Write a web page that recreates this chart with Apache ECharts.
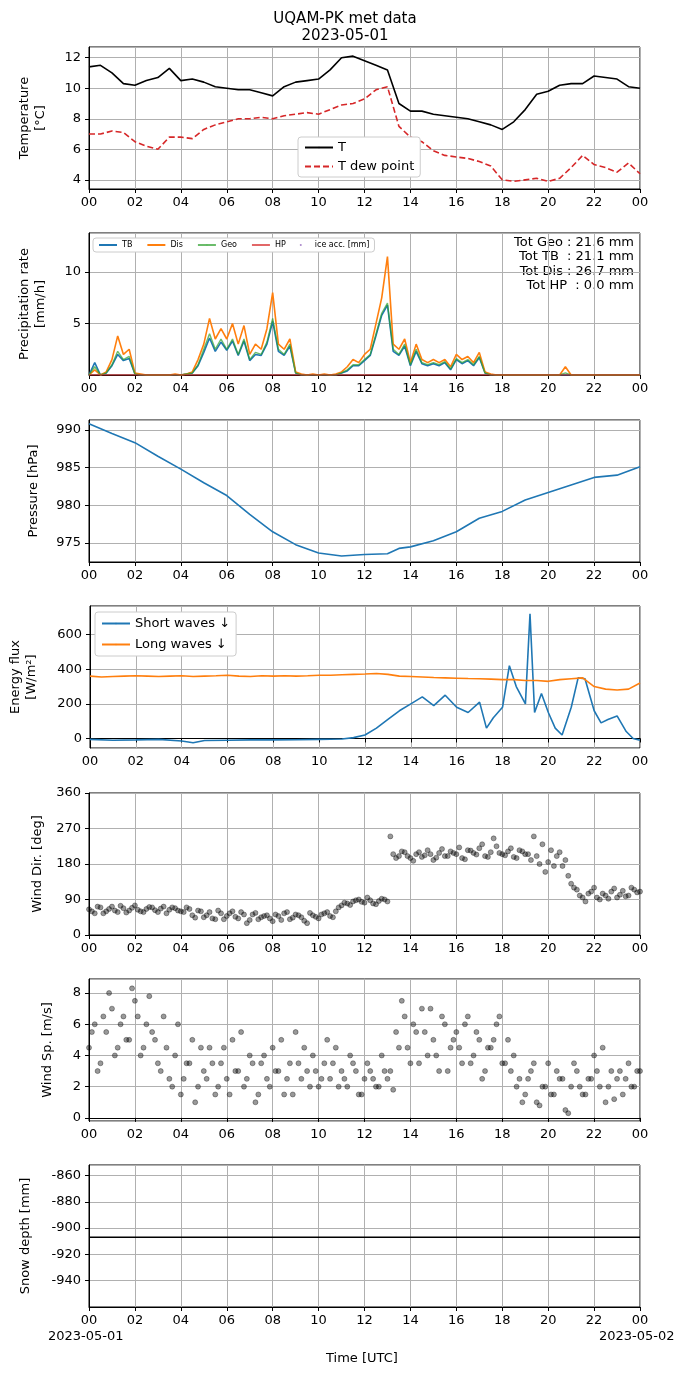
<!DOCTYPE html><html><head><meta charset="utf-8">
<script src="https://cdn.jsdelivr.net/npm/echarts@6/dist/echarts.min.js"></script>
<style>html,body{margin:0;padding:0;background:#fff}#c{width:690px;height:1377px}</style></head><body><div id="c"></div>
<script>
const tempT=[11.4,11.5,11.0,10.3,10.2,10.5,10.7,11.3,10.5,10.6,10.4,10.1,10.0,9.9,9.9,9.7,9.5,10.1,10.4,10.5,10.6,11.2,12.0,12.1,11.8,11.5,11.2,9.0,8.5,8.5,8.3,8.2,8.1,8.0,7.8,7.6,7.3,7.8,8.6,9.6,9.8,10.2,10.3,10.3,10.8,10.7,10.6,10.1,10.0];
const tempDew=[7.0,7.0,7.2,7.1,6.5,6.2,6.0,6.8,6.8,6.7,7.3,7.6,7.8,8.0,8.0,8.1,8.0,8.2,8.3,8.4,8.3,8.6,8.9,9.0,9.3,9.9,10.1,7.5,6.8,6.5,5.9,5.6,5.5,5.4,5.2,4.9,4.0,3.9,4.0,4.1,3.9,4.1,4.8,5.6,5.0,4.8,4.5,5.1,4.4];
const precDis=[0,0.5,0,0.3,1.5,3.8,2.0,2.5,0.2,0.1,0,0,0,0,0,0.1,
0,0.1,0.3,1.5,3.0,5.5,3.5,4.5,3.5,5.0,3.0,4.8,2.0,3.0,2.5,4.5,
8.0,3.0,2.5,3.5,0.3,0.1,0,0.1,0,0.1,0,0.1,
0.3,0.8,1.5,1.2,2.0,2.5,5.0,7.5,11.5,3.0,2.5,3.5,
1.2,3.0,1.5,1.2,1.5,1.2,1.5,0.8,2.0,1.5,1.8,1.2,2.2,0.3,0.1,0,
0,0,0,0,0,0,0,0,0,0,0,0.8,0,0,0,0,0,0,0,0,0,0,0,0,0];
const precGeo=[0,0.8,0,0.2,1.0,2.3,1.5,1.8,0.1,0,0,0,0,0,0,0,
0,0.1,0.2,1.0,2.5,4.0,2.5,3.5,2.5,3.5,2.0,3.5,1.5,2.2,2.0,3.2,
5.5,2.5,2.0,3.0,0.2,0,0,0,0,0,0,0,
0.2,0.5,1.0,1.0,1.5,2.0,4.0,6.0,7.0,2.5,2.0,3.0,
1.0,2.5,1.2,1.0,1.2,1.0,1.3,0.6,1.6,1.2,1.5,1.0,1.8,0.2,0,0,
0,0,0,0,0,0,0,0,0,0,0,0.2,0,0,0,0,0,0,0,0,0,0,0,0,0];
const precTB=[0,1.2,0,0.2,0.9,2.0,1.4,1.6,0.1,0,0,0,0,0,0,0,
0,0.1,0.2,0.9,2.2,3.6,2.3,3.2,2.4,3.3,1.9,3.3,1.4,2.0,1.9,3.0,
5.2,2.3,1.9,2.8,0.2,0,0,0,0,0,0,0,
0.2,0.4,0.9,0.9,1.4,1.9,3.8,5.8,6.8,2.3,1.9,2.8,
0.9,2.3,1.1,0.9,1.1,0.9,1.2,0.5,1.5,1.1,1.4,0.9,1.7,0.2,0,0,
0,0,0,0,0,0,0,0,0,0,0,0,0,0,0,0,0,0,0,0,0,0,0,0,0];
const presHours=[0,1,2,3,4,5,6,7,8,9,10,11,12,13,13.5,14,15,16,17,18,19,20,21,22,23,24];
const presVal=[990.8,989.5,988.3,986.5,984.8,983.0,981.3,978.8,976.5,974.8,973.7,973.3,973.5,973.6,974.3,974.5,975.3,976.5,978.3,979.2,980.7,981.7,982.7,983.7,984.0,985.1];
const lwVal=[360,355,358,360,362,360,358,360,362,358,360,362,365,360,358,362,360,362,360,362,365,365,368,370,372,375,370,360,358,355,352,350,348,346,345,343,340,340,335,335,330,340,345,350,300,285,280,285,320];
const swHours=[0,1,2,3,4,4.5,5,6,7,8,9,10,11,11.5,12,12.5,13,13.5,14,14.5,15,15.5,16,16.5,17,17.3,17.6,18,18.3,18.6,19,19.2,19.4,19.7,20,20.3,20.6,21,21.3,21.6,22,22.3,22.6,23,23.4,23.7,24];
const swVal=[-5,-10,-8,-5,-15,-25,-12,-10,-8,-8,-7,-5,-3,5,20,60,110,160,200,240,190,250,180,150,210,60,120,180,420,300,200,720,150,260,150,60,20,180,350,345,160,90,110,130,40,0,-10];
const dirVal=[65,55,70,60,72,58,68,62,75,60,66,70,58,72,64,68,60,
70,50,62,45,58,40,55,48,60,42,52,38,56,45,50,35,
48,55,40,52,45,30,50,42,55,48,60,
75,80,85,90,82,88,78,92,85,
205,200,210,195,205,198,215,190,208,200,212,205,195,215,208,220,200,210,225,205,212,198,215,205,190,200,230,185,175,210,190,
130,115,95,105,120,90,100,110,95,112,100,115,110];
const dirVal2=[60,72,55,66,62,74,57,69,64,58,71,63,67,55,70,62,
58,66,44,60,50,42,62,40,55,46,58,30,52,40,48,42,
52,38,58,44,50,36,56,46,52,58,45,70,
82,76,88,84,95,80,86,90,
250,195,212,200,188,210,202,205,196,218,200,208,222,192,214,204,230,198,245,208,202,220,195,212,205,250,180,160,215,200,175,150,
120,100,85,110,95,105,92,118,102,98,120,108];
const spdVal=[4.5,6.0,3.5,5.5,7.0,4.5,6.5,5.0,7.5,4.0,6.0,5.5,3.5,
6.5,2.5,4.0,1.5,3.5,5.0,2.0,3.0,4.5,1.5,3.5,2.5,5.0,3.0,2.0,4.0,1.0,3.5,2.5,4.5,3.0,1.5,3.5,5.5,2.5,3.0,4.0,2.0,3.5,2.5,4.5,3.0,2.0,3.5,1.5,2.5,3.0,2.0,4.0,2.5,1.8,
4.5,6.5,3.5,5.5,7.0,4.0,5.0,3.0,6.0,4.5,5.5,3.5,6.5,4.0,5.0,3.0,4.5,6.0,3.5,5.0,4.0,
2.5,1.5,3.0,1.0,2.0,3.5,1.5,2.5,0.5,2.0,3.0,1.5,2.5,4.0,2.0,1.0,3.0,2.5,1.5,3.5,2.0,3.0];
const spdVal2=[5.5,3.0,6.5,8.0,4.0,6.0,5.0,8.3,6.5,4.5,7.8,5.0,
3.0,4.5,2.0,6.0,2.5,3.5,1.0,4.5,2.5,3.5,2.0,4.5,1.5,3.0,5.5,2.5,3.5,1.5,4.0,2.0,3.0,5.0,2.5,1.5,3.5,4.5,2.0,3.0,2.5,5.0,3.5,2.0,2.5,4.0,3.0,1.5,3.5,2.5,2.0,3.0,
3.0,5.5,7.5,4.5,6.0,3.5,5.5,7.0,4.0,6.5,3.0,5.0,4.5,6.0,3.5,5.5,2.5,4.5,5.0,6.5,3.5,
3.0,2.0,1.0,2.5,3.5,0.8,2.0,1.5,3.0,2.5,0.3,3.5,2.0,1.5,2.5,3.0,4.5,2.0,1.2,3.0,2.5,2.0,3.0];
const snowHours=[0,24];
const snowVal=[-907,-907];
const xTicks=['00','02','04','06','08','10','12','14','16','18','20','22','00'];

const step=(n,s,o)=>Array.from({length:n},(_,i)=>(o||0)+i*s);
const zip=(a,b)=>a.map((x,i)=>[x,b[i]]);
const h05=step(49,0.5), h025=step(97,0.25), h025b=step(96,0.25,0.125);
const tops=[47,233,420,606,793,979,1165];
const F='DejaVu Sans';
const grids=tops.map(t=>({left:89,width:551,top:t,height:142,show:true,borderColor:'#000',borderWidth:1,backgroundColor:'transparent'}));
const gridLine={show:true,lineStyle:{color:'#b0b0b0',width:1}};
const xAxes=tops.map((t,i)=>({type:'value',gridIndex:i,min:0,max:24,interval:2,
 axisLine:{lineStyle:{color:'#000'}},axisTick:{lineStyle:{color:'#000'},length:4},splitLine:gridLine,
 axisLabel:{color:'#000',fontFamily:F,fontSize:13,formatter:v=>xTicks[Math.round(v/2)],margin:7}}));
function yA(i,name,min,max,interval,extra){return Object.assign({type:'value',gridIndex:i,min,max,interval,name,nameLocation:'middle',nameGap:38,
 nameTextStyle:{color:'#000',fontFamily:F,fontSize:13,lineHeight:16},
 axisLine:{show:true,lineStyle:{color:'#000'}},axisTick:{show:true,lineStyle:{color:'#000'},length:4},splitLine:gridLine,
 axisLabel:{color:'#000',fontFamily:F,fontSize:13,showMinLabel:false,showMaxLabel:false}},extra||{});}
const yAxes=[
 yA(0,'Temperature\n[°C]',3.4,12.7,null,{splitNumber:5,nameGap:40}),
 yA(1,'Precipitation rate\n[mm/h]',0,13.8,null,{splitNumber:3,nameGap:40}),
 yA(2,'Pressure [hPa]',972.5,991.3,null,{splitNumber:4,nameGap:47}),
 yA(3,'Energy flux\n[W/m²]',-55,765,null,{splitNumber:4,nameGap:50}),
 yA(4,'Wind Dir. [deg]',0,360,90,{axisLabel:{color:'#000',fontFamily:F,fontSize:13}}),
 yA(5,'Wind Sp. [m/s]',-0.2,8.9,null,{splitNumber:5,nameGap:33}),
 yA(6,'Snow depth [mm]',-960,-852,null,{splitNumber:5,nameGap:55})
];
const ln=(name,xi,data,color,extra)=>Object.assign({type:'line',name,xAxisIndex:xi,yAxisIndex:xi,data,showSymbol:false,symbol:'none',lineStyle:{color,width:1.6},itemStyle:{color}},extra||{});
const sc=(xi,data)=>({type:'scatter',xAxisIndex:xi,yAxisIndex:xi,data,symbolSize:5,itemStyle:{color:'rgba(0,0,0,0.5)',borderColor:'rgba(0,0,0,0.7)',borderWidth:0.6}});
const series=[
 ln('T',0,zip(h05,tempT),'#000'),
 ln('T dew point',0,zip(h05,tempDew),'#d62728',{lineStyle:{color:'#d62728',width:1.6,type:[6,3]}}),
 ln('TB',1,zip(h025,precTB),'#1f77b4'),
 ln('Dis',1,zip(h025,precDis),'#ff7f0e'),
 ln('Geo',1,zip(h025,precGeo),'#5cb85c',{lineStyle:{color:'rgba(44,160,44,0.7)',width:1.4}}),
 ln('HP',1,zip(h025,h025.map(()=>0)),'#e06666',{lineStyle:{color:'rgba(214,39,40,0.7)',width:1.4}}),
 {type:'scatter',name:'ice acc. [mm]',xAxisIndex:1,yAxisIndex:1,data:[],itemStyle:{color:'#9467bd'}},
 ln('Pressure',2,zip(presHours,presVal),'#1f77b4'),
 ln('Short waves ↓',3,zip(swHours,swVal),'#1f77b4'),
 ln('Long waves ↓',3,zip(h05,lwVal),'#ff7f0e'),
 sc(4,zip(h025,dirVal)),
 sc(4,zip(h025b,dirVal2)),
 sc(5,zip(h025,spdVal)),
 sc(5,zip(h025b,spdVal2)),
 ln('Snow',6,zip(snowHours,snowVal),'#000')
];
const lg={backgroundColor:'#fff',borderColor:'#ccc',borderWidth:1,borderRadius:3,textStyle:{color:'#000',fontFamily:F}};
const chart=echarts.init(document.getElementById('c'));
chart.setOption({animation:false,backgroundColor:'#fff',
 title:{text:'UQAM-PK met data\n2023-05-01',left:'center',top:6,textStyle:{fontFamily:F,fontSize:15,fontWeight:'normal',color:'#000',lineHeight:17}},
 grid:grids,xAxis:xAxes,yAxis:yAxes,series,
 legend:[
  Object.assign({},lg,{data:['T','T dew point'],orient:'vertical',left:298,top:137,itemWidth:28,itemHeight:2,itemGap:6,padding:[4,6],textStyle:{color:'#000',fontFamily:F,fontSize:13}}),
  Object.assign({},lg,{data:['TB','Dis','Geo','HP',{name:'ice acc. [mm]',icon:'circle',itemStyle:{color:'#9467bd'}}],orient:'horizontal',left:93,top:238,itemWidth:18,itemHeight:2,itemGap:14,padding:[3,5],textStyle:{color:'#000',fontFamily:F,fontSize:8}}),
  Object.assign({},lg,{data:['Short waves ↓','Long waves ↓'],orient:'vertical',left:95,top:612,itemWidth:28,itemHeight:2,itemGap:8,padding:[5,6],textStyle:{color:'#000',fontFamily:F,fontSize:13}})
 ],
 graphic:[
  {type:'text',x:634,y:235,style:{text:'Tot Geo : 21.6 mm\nTot TB  : 21.1 mm\nTot Dis : 26.7 mm\nTot HP  : 0.0 mm',align:'right',font:'13px DejaVu Sans',fill:'#000',lineHeight:14.5}},
  {type:'text',left:48,top:1330,style:{text:'2023-05-01',font:'13px DejaVu Sans',fill:'#000'}},
  {type:'text',left:599,top:1330,style:{text:'2023-05-02',font:'13px DejaVu Sans',fill:'#000'}},
  {type:'text',left:326,top:1352,style:{text:'Time [UTC]',font:'13px DejaVu Sans',fill:'#000'}}
 ]
});
</script></body></html>
